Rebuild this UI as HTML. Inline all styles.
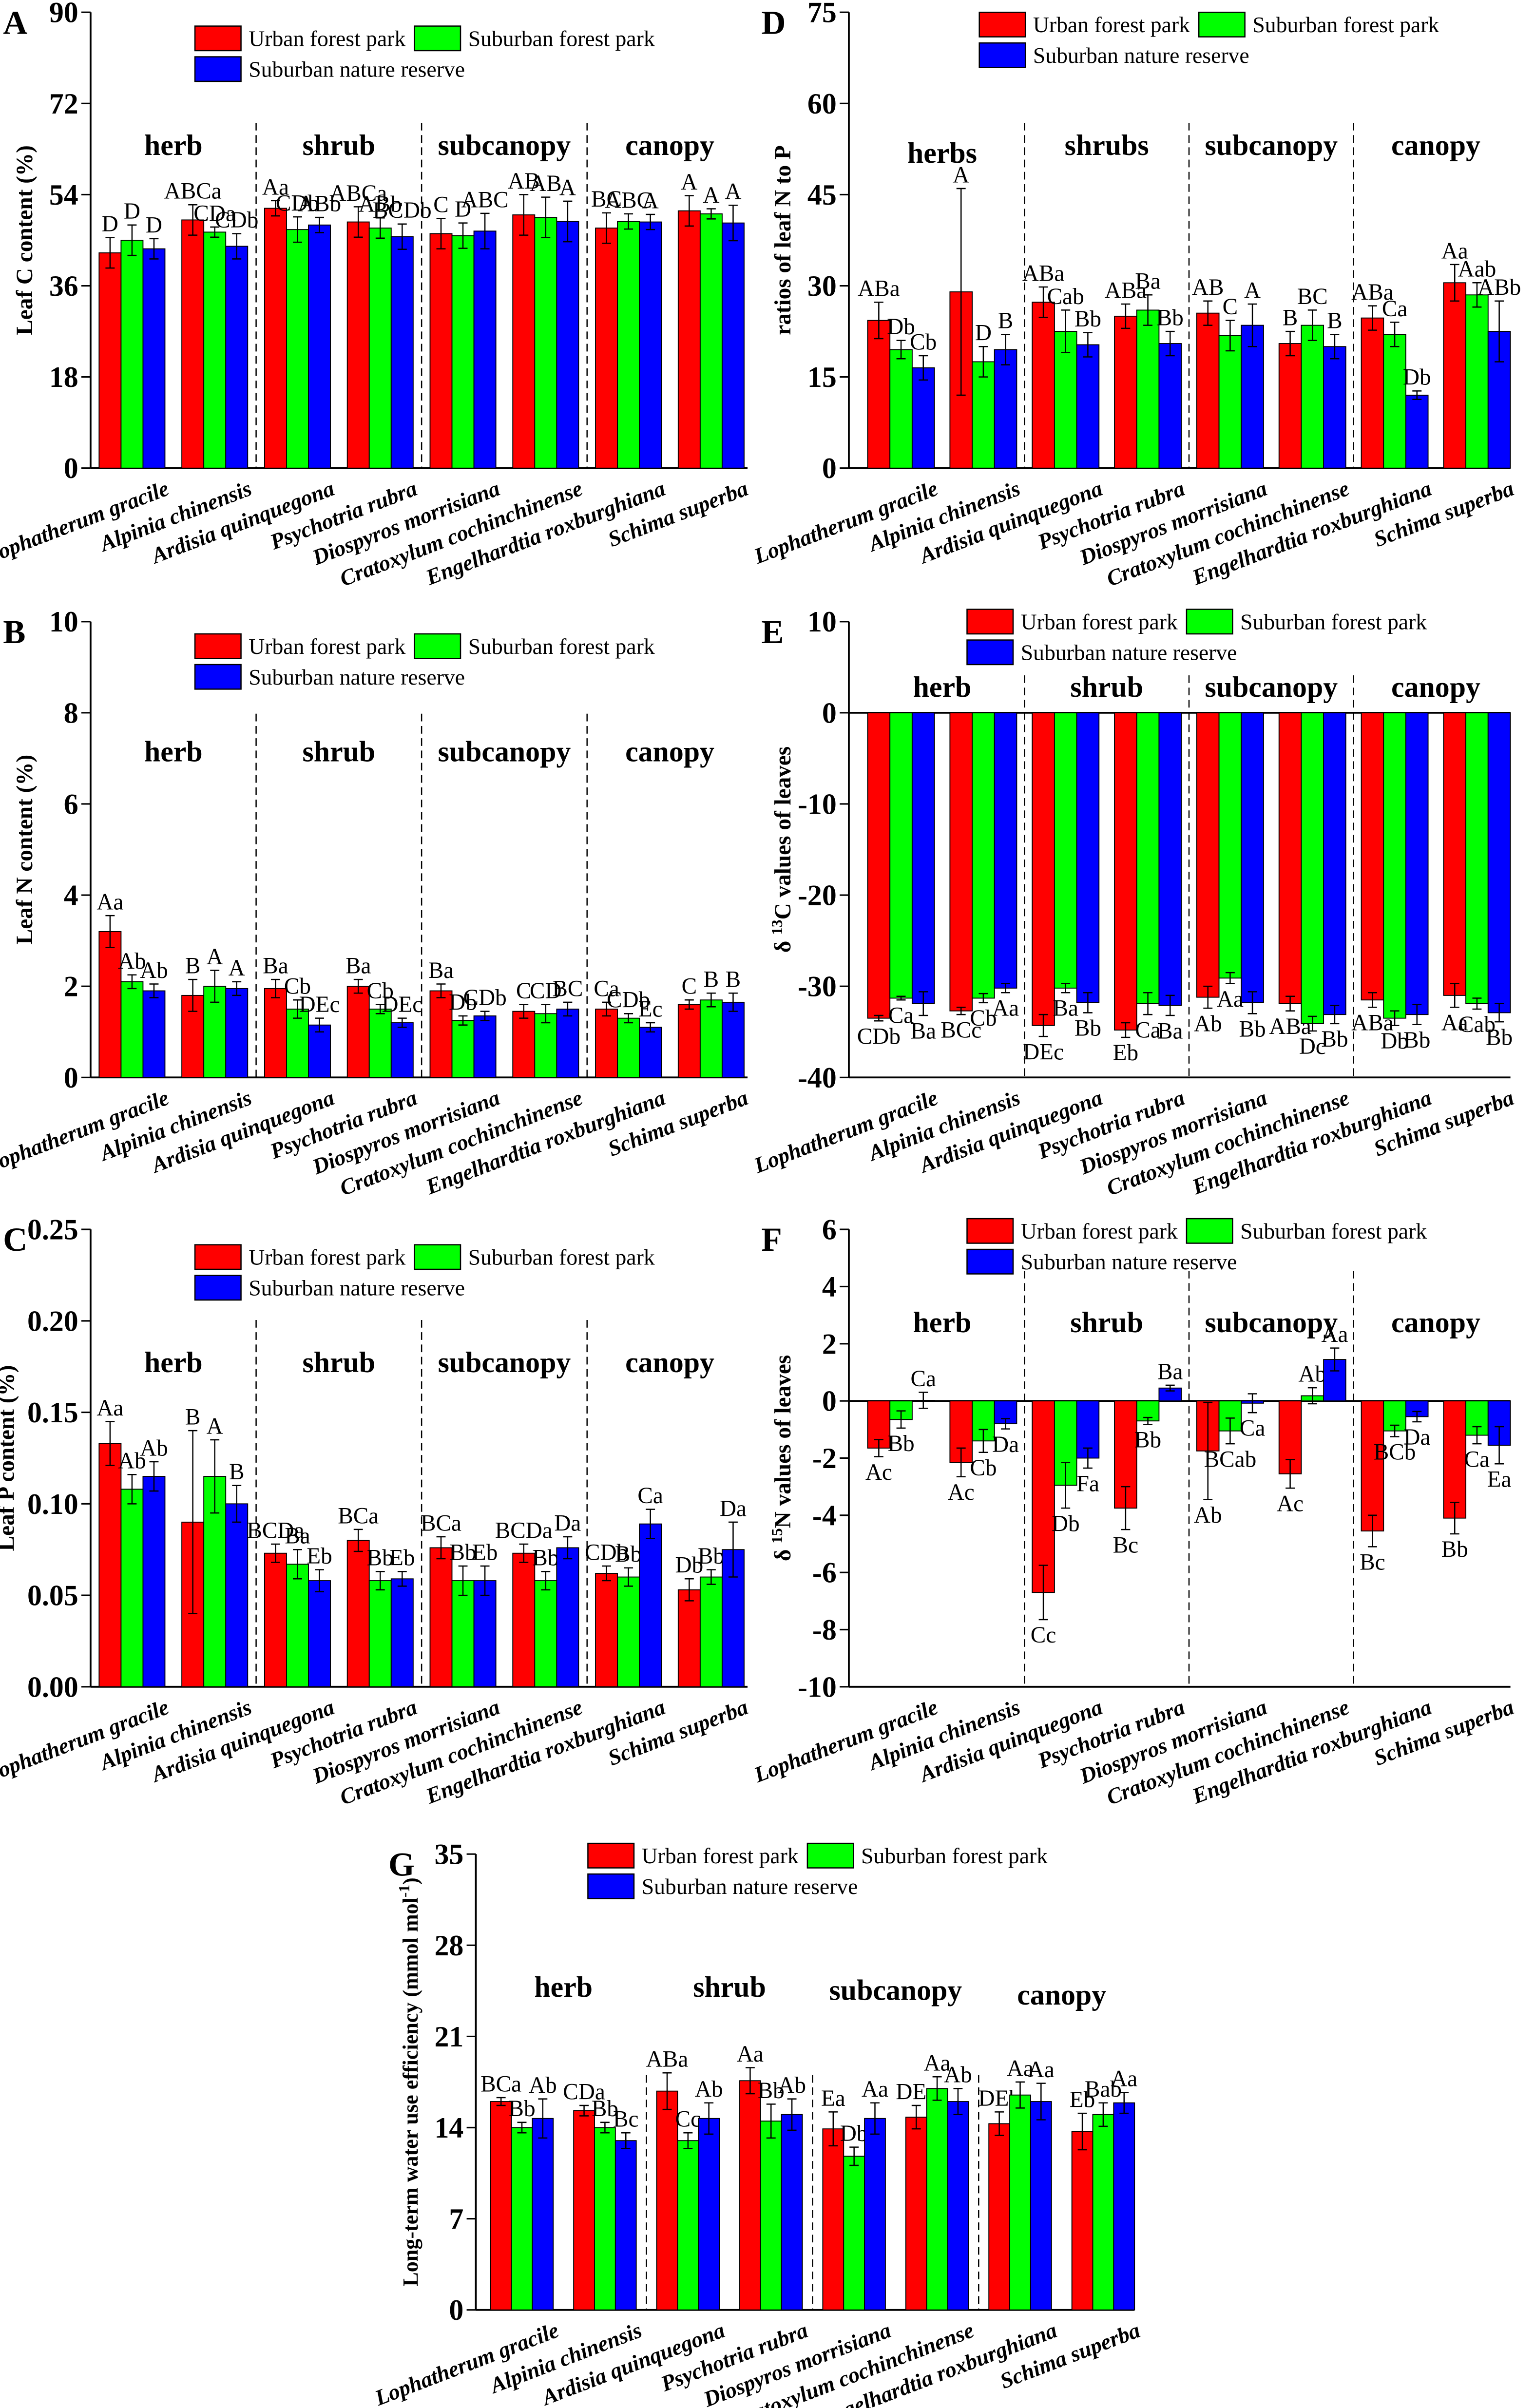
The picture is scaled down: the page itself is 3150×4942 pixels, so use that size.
<!DOCTYPE html>
<html><head><meta charset="utf-8"><style>
html,body{margin:0;padding:0;background:#fff;}
svg{display:block;}
text{font-family:"Liberation Serif",serif;}
</style></head>
<body>
<svg id="fig" xmlns="http://www.w3.org/2000/svg" width="3150" height="4942" viewBox="0 0 1000 1568.9"></svg>
<script>
const species = ["Lophatherum gracile","Alpinia chinensis","Ardisia quinquegona","Psychotria rubra","Diospyros morrisiana","Cratoxylum cochinchinense","Engelhardtia roxburghiana","Schima superba"];
const seriesNames = ["Urban forest park","Suburban forest park","Suburban nature reserve"];
const strata = ["herb","shrub","subcanopy","canopy"];
const strataD = ["herbs","shrubs","subcanopy","canopy"];

// Panel A: leaf C (%)
const aUrban = [42.5,49,51.3,48.6,46.3,50,47.4,50.8];
const aSubForest = [45,46.6,47.1,47.4,45.9,49.5,48.7,50.2];
const aReserve = [43.3,43.8,48,45.7,46.8,48.7,48.6,48.4];
const aErr = [[3,3,1.5,3,3,4,3,3],[3,1,2.5,2,2.5,4,1.5,1],[2,2.5,1.5,2.5,3.5,4,1.5,3.5]];
const aLabels = [["D","ABCa","Aa","ABCa","C","AB","BC","A"],["D","CDa","CDb","ABb","D","AB","ABC","A"],["D","CDb","ABb","BCDb","ABC","A","A","A"]];
const aTicks = [0,18,36,54,72,90];

// Panel B: leaf N (%)
const bUrban = [3.2,1.8,1.95,2.0,1.9,1.45,1.5,1.6];
const bSubForest = [2.1,2.0,1.5,1.5,1.25,1.4,1.3,1.7];
const bReserve = [1.9,1.95,1.15,1.2,1.35,1.5,1.1,1.65];
const bErr = [[0.35,0.35,0.2,0.15,0.15,0.15,0.15,0.1],[0.15,0.35,0.2,0.1,0.1,0.2,0.1,0.15],[0.15,0.15,0.15,0.1,0.1,0.15,0.1,0.2]];
const bLabels = [["Aa","B","Ba","Ba","Ba","C","Ca","C"],["Ab","A","Cb","Cb","Db","CD","CDb","B"],["Ab","A","DEc","DEc","CDb","BC","Ec","B"]];
const bTicks = [0,2,4,6,8,10];

// Panel C: leaf P (%)
const cUrban = [0.133,0.090,0.073,0.080,0.076,0.073,0.062,0.053];
const cSubForest = [0.108,0.115,0.067,0.058,0.058,0.058,0.060,0.060];
const cReserve = [0.115,0.100,0.058,0.059,0.058,0.076,0.089,0.075];
const cErr = [[0.012,0.05,0.005,0.006,0.006,0.005,0.004,0.006],[0.008,0.02,0.008,0.005,0.008,0.005,0.005,0.004],[0.008,0.01,0.006,0.004,0.008,0.006,0.008,0.015]];
const cLabels = [["Aa","B","BCDa","BCa","BCa","BCDa","CDb","Db"],["Ab","A","Ba","Bb","Bb","Bb","Bb","Bb"],["Ab","B","Eb","Eb","Eb","Da","Ca","Da"]];
const cTicks = [0,0.05,0.10,0.15,0.20,0.25];

// Panel D: N:P ratio
const dUrban = [24.3,29,27.3,25,25.5,20.5,24.7,30.5];
const dSubForest = [19.5,17.5,22.5,26,21.8,23.5,22,28.5];
const dReserve = [16.5,19.5,20.3,20.5,23.5,20,12,22.5];
const dErr = [[3,17,2.5,2,2,2,2,3],[1.5,2.5,3.5,2.5,2.5,2.5,2,2],[2,2.5,2,2,3.5,2,0.7,5]];
const dLabels = [["ABa","A","ABa","ABa","AB","B","ABa","Aa"],["Db","D","Cab","Ba","C","BC","Ca","Aab"],["Cb","B","Bb","Bb","A","B","Db","ABb"]];
const dTicks = [0,15,30,45,60,75];

// Panel E: delta 13C
const eUrban = [-33.5,-32.7,-34.3,-34.8,-31.2,-31.9,-31.5,-31];
const eSubForest = [-31.3,-31.3,-30.2,-31.9,-29.1,-34.1,-33.5,-31.9];
const eReserve = [-31.9,-30.2,-31.8,-32.1,-31.8,-33.1,-33.1,-32.9];
const eErr = [[0.3,0.4,1.2,0.8,1.2,0.8,0.8,1.3],[0.2,0.5,0.5,1.2,0.6,0.8,0.8,0.6],[1.3,0.5,1.1,1.1,1.2,1,1.1,1]];
const eLabels = [["CDb","BCc","DEc","Eb","Ab","ABa","ABa","Aa"],["Ca","Cb","Ba","Ca","Aa","Dc","Db","Cab"],["Ba","Aa","Bb","Ba","Bb","Bb","Bb","Bb"]];
const eTicks = [-40,-30,-20,-10,0,10];

// Panel F: delta 15N
const fUrban = [-1.65,-2.15,-6.7,-3.75,-1.75,-2.55,-4.55,-4.1];
const fSubForest = [-0.65,-1.4,-2.95,-0.7,-1.05,0.18,-1.05,-1.2];
const fReserve = [0.02,-0.8,-2.0,0.45,-0.08,1.45,-0.55,-1.55];
const fErr = [[0.3,0.5,0.95,0.75,1.7,0.5,0.55,0.55],[0.3,0.4,0.8,0.12,0.45,0.28,0.2,0.3],[0.28,0.18,0.35,0.1,0.33,0.4,0.18,0.65]];
const fLabels = [["Ac","Ac","Cc","Bc","Ab","Ac","Bc","Bb"],["Bb","Cb","Db","Bb","BCab","Ab","BCb","Ca"],["Ca","Da","Fa","Ba","Ca","Aa","Da","Ea"]];
const fTicks = [-10,-8,-6,-4,-2,0,2,4,6];

// Panel G: water use efficiency
const gUrban = [16,15.3,16.8,17.6,13.9,14.8,14.3,13.7];
const gSubForest = [14,14,13,14.5,11.8,17,16.5,15];
const gReserve = [14.7,13,14.7,15,14.7,16,16,15.9];
const gErr = [[0.3,0.4,1.4,1,1.3,0.9,0.9,1.4],[0.4,0.4,0.6,1.3,0.7,0.9,1,0.9],[1.5,0.6,1.2,1.2,1.2,1,1.4,0.8]];
const gLabels = [["BCa","CDa","ABa","Aa","Ea","DEc","DEb","Eb"],["Bb","Bb","Cc","Bb","Db","Aa","Aa","Bab"],["Ab","Bc","Ab","Ab","Aa","Ab","Aa","Aa"]];
const gTicks = [0,7,14,21,28,35];

const NS = "http://www.w3.org/2000/svg";
const svg = document.getElementById("fig");
const colors = ["#ff0000","#00ff00","#0000ff"];

function mk(tag, attrs, parent, txt){
  const el = document.createElementNS(NS, tag);
  for (const k in attrs) el.setAttribute(k, attrs[k]);
  if (txt !== undefined) el.textContent = txt;
  (parent || svg).appendChild(el);
  return el;
}

function panel(cfg){
  const g = mk("g", {});
  
  
  const yv = v => cfg.yBot - (v - cfg.min) / (cfg.max - cfg.min) * (cfg.yBot - cfg.yTop);
  const xc = i => cfg.x0 + i * cfg.step;
  const bw = cfg.bw;
  const pl = mk("text", {x: cfg.ax - 57, y: cfg.yTop + 14, "font-family":"Liberation Sans, sans-serif", "font-weight":"bold", "font-size":22}, g, cfg.letter);
  
  
  const ya = mk("line", {x1: cfg.ax, y1: cfg.yTop, x2: cfg.ax, y2: cfg.yBot, stroke:"#000", "stroke-width":1.2}, g);
  
  
  const xa = mk("line", {x1: cfg.ax, y1: cfg.yBot, x2: cfg.xEnd, y2: cfg.yBot, stroke:"#000", "stroke-width":1.2}, g);
  
  
  if (cfg.min < 0) {
    const zl = mk("line", {x1: cfg.ax, y1: yv(0), x2: cfg.xEnd, y2: yv(0), stroke:"#000", "stroke-width":1.2}, g);
    
    
  }
  cfg.ticks.forEach(t => {
    mk("line", {x1: cfg.ax - 6, y1: yv(t), x2: cfg.ax, y2: yv(t), stroke:"#000", "stroke-width":1}, g);
    const tl = mk("text", {x: cfg.ax - 8, y: yv(t) + 6.5, "text-anchor":"end", "font-weight":"bold", "font-size":19}, g, cfg.fmt ? cfg.fmt(t) : String(t));
    
    
  });
  const ty = (cfg.yTop + cfg.yBot) / 2 + (cfg.titleShift || 0);
  const tx = cfg.ax - (cfg.titleDx || 38);
  const yt = mk("text", {x: tx, y: ty, "text-anchor":"middle", "font-weight":"bold", "font-size": cfg.titleSize || 15, transform:`rotate(-90 ${tx} ${ty})`}, g);
  
  
  cfg.title.forEach(p => { mk("tspan", p.sup ? {"baseline-shift":"super","font-size":10} : {}, yt, p.t); });
  [2,4,6].forEach(k => {
    const sx = (xc(k-1) + xc(k)) / 2;
    const sl = mk("line", {x1: sx, y1: cfg.sepTop, x2: sx, y2: cfg.yBot, stroke:"#000", "stroke-width":0.8, "stroke-dasharray":"5,3"}, g);
    
    
  });
  cfg.strata.forEach((s, k) => {
    const sx = (xc(2*k) + xc(2*k+1)) / 2 + (cfg.strataDx ? cfg.strataDx[k] : 0);
    const st = mk("text", {x: sx, y: cfg.strataY + (cfg.strataDy ? cfg.strataDy[k] : 0), "text-anchor":"middle", "font-weight":"bold", "font-size":19}, g, s);
    
    
  });
  const series = cfg.series;
  series.forEach((vals, si) => {
    vals.forEach((v, i) => {
      const x = xc(i) + (si - 1.5) * bw;
      const y0 = yv(0), y1 = yv(v);
      const r = mk("rect", {x: x, y: Math.min(y0, y1), width: bw, height: Math.abs(y1 - y0), fill: colors[si], stroke:"#000", "stroke-width":0.6}, g);
      
      
      const e = cfg.err[si][i];
      const cx = x + bw/2;
      const eh = mk("path", {d:`M${cx},${yv(v+e)}V${yv(v-e)}M${cx-3},${yv(v+e)}h6M${cx-3},${yv(v-e)}h6`, stroke:"#000", "stroke-width":0.8, fill:"none"}, g);
      
      
      const below = v < 0;
      const ly = below ? yv(v - e) + 15 : yv(v + e) - 4;
      const lb = mk("text", {x: cx, y: ly, "text-anchor":"middle", "font-size":15}, g, cfg.labels[si][i]);
      
      
    });
  });
  species.forEach((s, i) => {
    const lx = xc(i) + 25, ly = cfg.xlabY;
    const t = mk("text", {x: lx, y: ly, "text-anchor":"end", "font-weight":"bold", "font-style":"italic", "font-size":14.5, transform:`rotate(-21 ${lx} ${ly})`}, g, s);
    
    
  });
  const lg = mk("g", {}, g);
  
  
  const L = cfg.leg;
  const pos = [[L[0], L[1]], [L[0] + 143, L[1]], [L[0], L[1] + 20]];
  pos.forEach((p, si) => {
    const b = mk("rect", {x: p[0], y: p[1], width: 30, height: 16, fill: colors[si], stroke:"#000", "stroke-width":0.8}, lg);
    
    
    const t = mk("text", {x: p[0] + 35, y: p[1] + 13, "font-size":14.5}, lg, seriesNames[si]);
    
    
  });
}

const L0 = {x0: 86, step: 53.9, bw: 14.3, ax: 59, xEnd: 487};
const R0 = {x0: 587, step: 53.6, bw: 14.5, ax: 553, xEnd: 984};

panel(Object.assign({}, L0, {letter:"A", yTop:8, yBot:305, min:0, max:90, ticks:aTicks, series:[aUrban,aSubForest,aReserve], err:aErr, labels:aLabels,
  title:[{t:"Leaf C content (%)"}], sepTop:80, strata:strata, strataY:101, xlabY:322, leg:[127,17]}));
panel(Object.assign({}, L0, {letter:"B", yTop:405, yBot:702, min:0, max:10, ticks:bTicks, series:[bUrban,bSubForest,bReserve], err:bErr, labels:bLabels,
  title:[{t:"Leaf N content (%)"}], sepTop:465, strata:strata, strataY:496, xlabY:719, leg:[127,413]}));
panel(Object.assign({}, L0, {letter:"C", yTop:801, yBot:1099, min:0, max:0.25, ticks:cTicks, series:[cUrban,cSubForest,cReserve], err:cErr, labels:cLabels,
  fmt: t => t.toFixed(2), titleDx:50, title:[{t:"Leaf P content (%)"}], sepTop:860, strata:strata, strataY:894, xlabY:1116, leg:[127,811]}));
panel(Object.assign({}, R0, {letter:"D", yTop:8, yBot:305, min:0, max:75, ticks:dTicks, series:[dUrban,dSubForest,dReserve], err:dErr, labels:dLabels,
  title:[{t:"ratios of leaf N to P"}], sepTop:80, strata:strataD, strataY:101, strataDy:[5,0,0,0], xlabY:322, leg:[638,8]}));
panel(Object.assign({}, R0, {letter:"E", yTop:405, yBot:702, min:-40, max:10, ticks:eTicks, series:[eUrban,eSubForest,eReserve], err:eErr, labels:eLabels,
  title:[{t:"δ "},{t:"13",sup:true},{t:"C values of leaves"}], sepTop:440, strata:strata, strataY:454, xlabY:719, leg:[630,397]}));
panel(Object.assign({}, R0, {letter:"F", yTop:801, yBot:1099, min:-10, max:6, ticks:fTicks, series:[fUrban,fSubForest,fReserve], err:fErr, labels:fLabels,
  title:[{t:"δ "},{t:"15",sup:true},{t:"N values of leaves"}], sepTop:828, strata:strata, strataY:868, xlabY:1116, leg:[630,794]}));
panel({letter:"G", x0: 340, step: 54.1, bw: 13.6, ax: 310, xEnd: 739, yTop:1208, yBot:1505, min:0, max:35, ticks:gTicks, series:[gUrban,gSubForest,gReserve], err:gErr, labels:gLabels,
  title:[{t:"Long-term water use efficiency (mmol mol"},{t:"-1",sup:true},{t:")"}], titleSize:14, sepTop:1352, strata:strata, strataY:1301, strataDy:[0,0,2,5], xlabY:1522, leg:[383,1201]});
</script>
</body></html>
